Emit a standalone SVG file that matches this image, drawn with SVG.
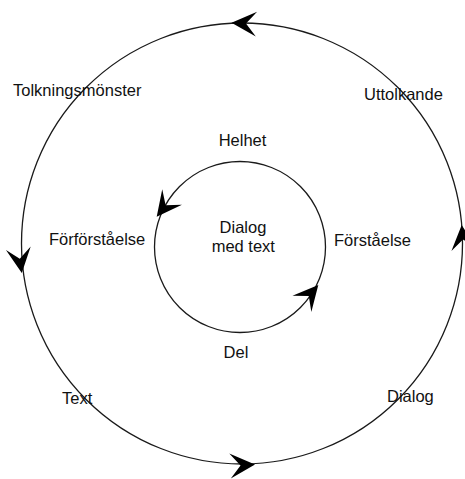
<svg xmlns="http://www.w3.org/2000/svg" xmlns:xlink="http://www.w3.org/1999/xlink" width="465" height="479" viewBox="0 0 465 479">
<style>
.ring{fill:none;stroke:#1a1a1a;stroke-width:1.3}
.lbl{font-family:"Liberation Sans",Arial,sans-serif;font-size:16.5px;fill:#111}
.ah{fill:#000}
</style>
<defs>
<path id="ah" class="ah" d="M0,0 L-25,-12.5 L-14.5,0 L-25,12.5 Z"/>
</defs>
<rect width="465" height="479" fill="#fff"/>
<g id="connectors">
<circle id="outer-ring" class="ring" cx="242" cy="243.5" r="220.5"/>
<circle id="inner-ring" class="ring" cx="240" cy="247" r="85.5"/>
<use xlink:href="#ah" transform="translate(231.5,22.8) rotate(183)"/>
<use xlink:href="#ah" transform="translate(21.8,273) rotate(82)"/>
<use xlink:href="#ah" transform="translate(255,464.5) rotate(-3.5)"/>
<use xlink:href="#ah" transform="translate(461.7,225) rotate(-95)"/>
<use xlink:href="#ah" transform="translate(156.7,216.7) rotate(128)"/>
<use xlink:href="#ah" transform="translate(318.3,285) rotate(-49)"/>
</g>
<g id="tolkningsmonster"><text class="lbl" x="13" y="96">Tolkningsmönster</text></g>
<g id="uttolkande"><text class="lbl" x="364" y="99.5">Uttolkande</text></g>
<g id="text"><text class="lbl" x="62" y="403.5">Text</text></g>
<g id="dialog-outer"><text class="lbl" x="387" y="401.5">Dialog</text></g>
<g id="helhet"><text class="lbl" x="242.5" y="145.5" text-anchor="middle">Helhet</text></g>
<g id="forforstaelse"><text class="lbl" x="49" y="245">Förförståelse</text></g>
<g id="forstaelse"><text class="lbl" x="334" y="245.5">Förståelse</text></g>
<g id="del"><text class="lbl" x="236" y="357.5" text-anchor="middle">Del</text></g>
<g id="center"><text class="lbl" x="243" y="233.3" text-anchor="middle">Dialog</text><text class="lbl" x="243.3" y="251.7" text-anchor="middle">med text</text></g>
</svg>
